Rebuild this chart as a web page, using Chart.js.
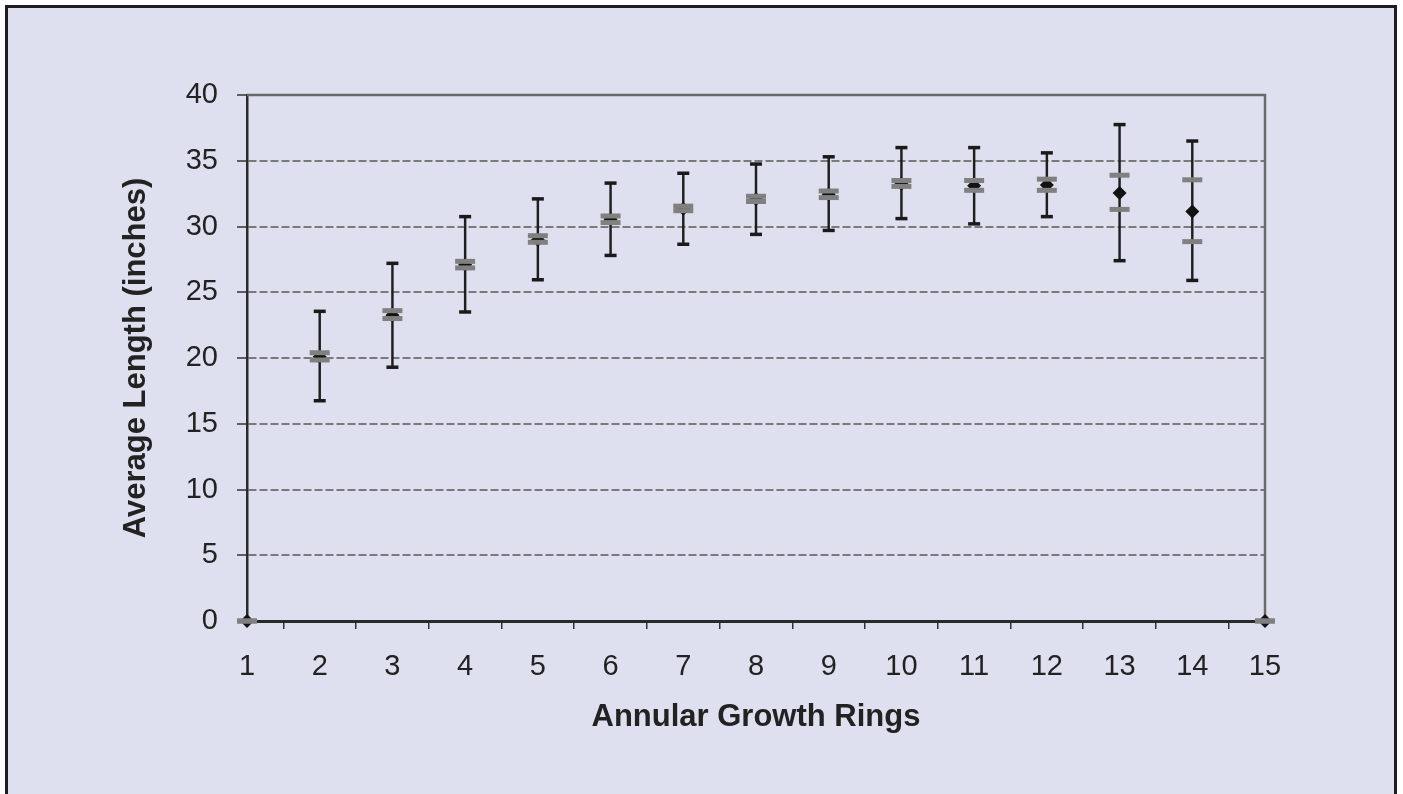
<!DOCTYPE html>
<html lang="en">
<head>
<meta charset="utf-8">
<title>Average Length by Annular Growth Rings</title>
<script src="https://cdn.jsdelivr.net/npm/chart.js"></script>
<style>
  html, body { margin: 0; padding: 0; background: #ffffff; }
  body { width: 1403px; height: 794px; position: relative; overflow: hidden; }
  /* outer frame, open at the bottom like the scanned figure */
  #frame {
    position: absolute; left: 5px; top: 5px; width: 1386px; height: 820px;
    background: #dfe0ef; border: 3px solid #1e1e1e;
  }
  #chart { position: absolute; left: 0; top: 0; }
</style>
</head>
<body>
<div id="frame"></div>
<canvas id="chart" width="1403" height="794"></canvas>

<script>
// ring counts along the x axis
const rings = ['1','2','3','4','5','6','7','8','9','10','11','12','13','14','15'];

// mean length (diamonds)
const meanLength = [0, 20.1, 23.25, 27.1, 29.0, 30.55, 31.35, 32.1, 32.45, 33.25, 33.1, 33.15, 32.55, 31.15, 0];

// grey marks above / below the mean
const upperMark = [0, 20.4, 23.6, 27.35, 29.3, 30.8, 31.55, 32.3, 32.7, 33.5, 33.5, 33.6, 33.9, 33.55, 0];
const lowerMark = [0, 19.85, 23.0, 26.85, 28.8, 30.3, 31.2, 31.9, 32.2, 33.05, 32.75, 32.75, 31.3, 28.85, 0];

// whisker ends (error bars)
const whiskerHigh = [null, 23.55, 27.2, 30.75, 32.1, 33.3, 34.05, 34.75, 35.3, 36.0, 36.0, 35.6, 37.75, 36.5, null];
const whiskerLow  = [null, 16.75, 19.3, 23.5, 25.95, 27.8, 28.65, 29.4, 29.7, 30.6, 30.2, 30.75, 27.4, 25.9, null];

const yTicks = [0, 5, 10, 15, 20, 25, 30, 35, 40];

// whiskers as thin floating bars
const whiskers = rings.map((r, i) => whiskerHigh[i] == null ? null : [whiskerLow[i], whiskerHigh[i]]);

// top and right edges of the plot box
const plotFrame = {
  id: 'plotFrame',
  beforeDatasetsDraw(chart) {
    const a = chart.chartArea;
    const ctx = chart.ctx;
    ctx.save();
    ctx.strokeStyle = '#6a6a6a';
    ctx.lineWidth = 2.5;
    ctx.beginPath();
    ctx.moveTo(a.left, a.top);
    ctx.lineTo(a.right, a.top);
    ctx.lineTo(a.right, a.bottom);
    ctx.stroke();
    ctx.restore();
  }
};

function markSet(data, style, radius, width, color, order) {
  return {
    type: 'line', data: data, showLine: false, clip: false, order: order,
    pointStyle: style, pointRadius: radius, pointHoverRadius: radius,
    pointBorderWidth: width, pointBorderColor: color, pointBackgroundColor: color,
    borderColor: color, backgroundColor: color
  };
}

const ctx = document.getElementById('chart').getContext('2d');
new Chart(ctx, {
  type: 'bar',
  data: {
    labels: rings,
    datasets: [
      { type: 'bar', data: whiskers, backgroundColor: '#1e1e1e', barThickness: 1.8, order: 6 },
      markSet(whiskerHigh, 'line', 6, 3.5, '#1a1a1a', 5),
      markSet(whiskerLow, 'line', 6, 3.5, '#1a1a1a', 5),
      markSet(meanLength, 'rectRot', 7, 0, '#121212', 4),
      markSet(upperMark, 'line', 10, 5, '#808080', 1),
      markSet(lowerMark, 'line', 10, 5, '#808080', 1)
    ]
  },
  options: {
    responsive: false,
    animation: false,
    events: [],
    layout: { padding: { left: 0, top: 95, right: 138, bottom: 0 } },
    plugins: { legend: { display: false }, tooltip: { enabled: false } },
    scales: {
      x: {
        offset: false,
        grid: { drawOnChartArea: false, drawTicks: true, tickLength: 8, color: '#333333', lineWidth: 1.5 },
        border: { color: '#2a2a2a', width: 3 },
        ticks: { color: '#222', padding: 21, font: { family: 'Liberation Sans', size: 29 } },
        title: {
          display: true, text: 'Annular Growth Rings', color: '#222',
          font: { family: 'Liberation Sans', size: 31, weight: 'bold' },
          padding: { top: 0, bottom: 58 }
        },
        afterFit(scale) { scale.height = 173; }
      },
      y: {
        min: 0, max: 40,
        afterBuildTicks(scale) { scale.ticks = yTicks.map(v => ({ value: v })); },
        grid: {
          color: c => (c.tick && (c.tick.value === 0 || c.tick.value === 40)) ? 'rgba(0,0,0,0)' : '#7a7a7a',
          lineWidth: 2,
          tickColor: '#333333', tickWidth: 1.5, tickLength: 10
        },
        border: { color: '#2a2a2a', width: 2.5, dash: [8, 3] },
        ticks: { color: '#222', padding: 19, font: { family: 'Liberation Sans', size: 29 } },
        title: {
          display: true, text: 'Average Length (inches)', color: '#222',
          font: { family: 'Liberation Sans', size: 31, weight: 'bold' },
          padding: { top: 118, bottom: 0 }
        },
        afterFit(scale) { scale.width = 247; }
      }
    }
  },
  plugins: [plotFrame]
});
</script>
</body>
</html>
